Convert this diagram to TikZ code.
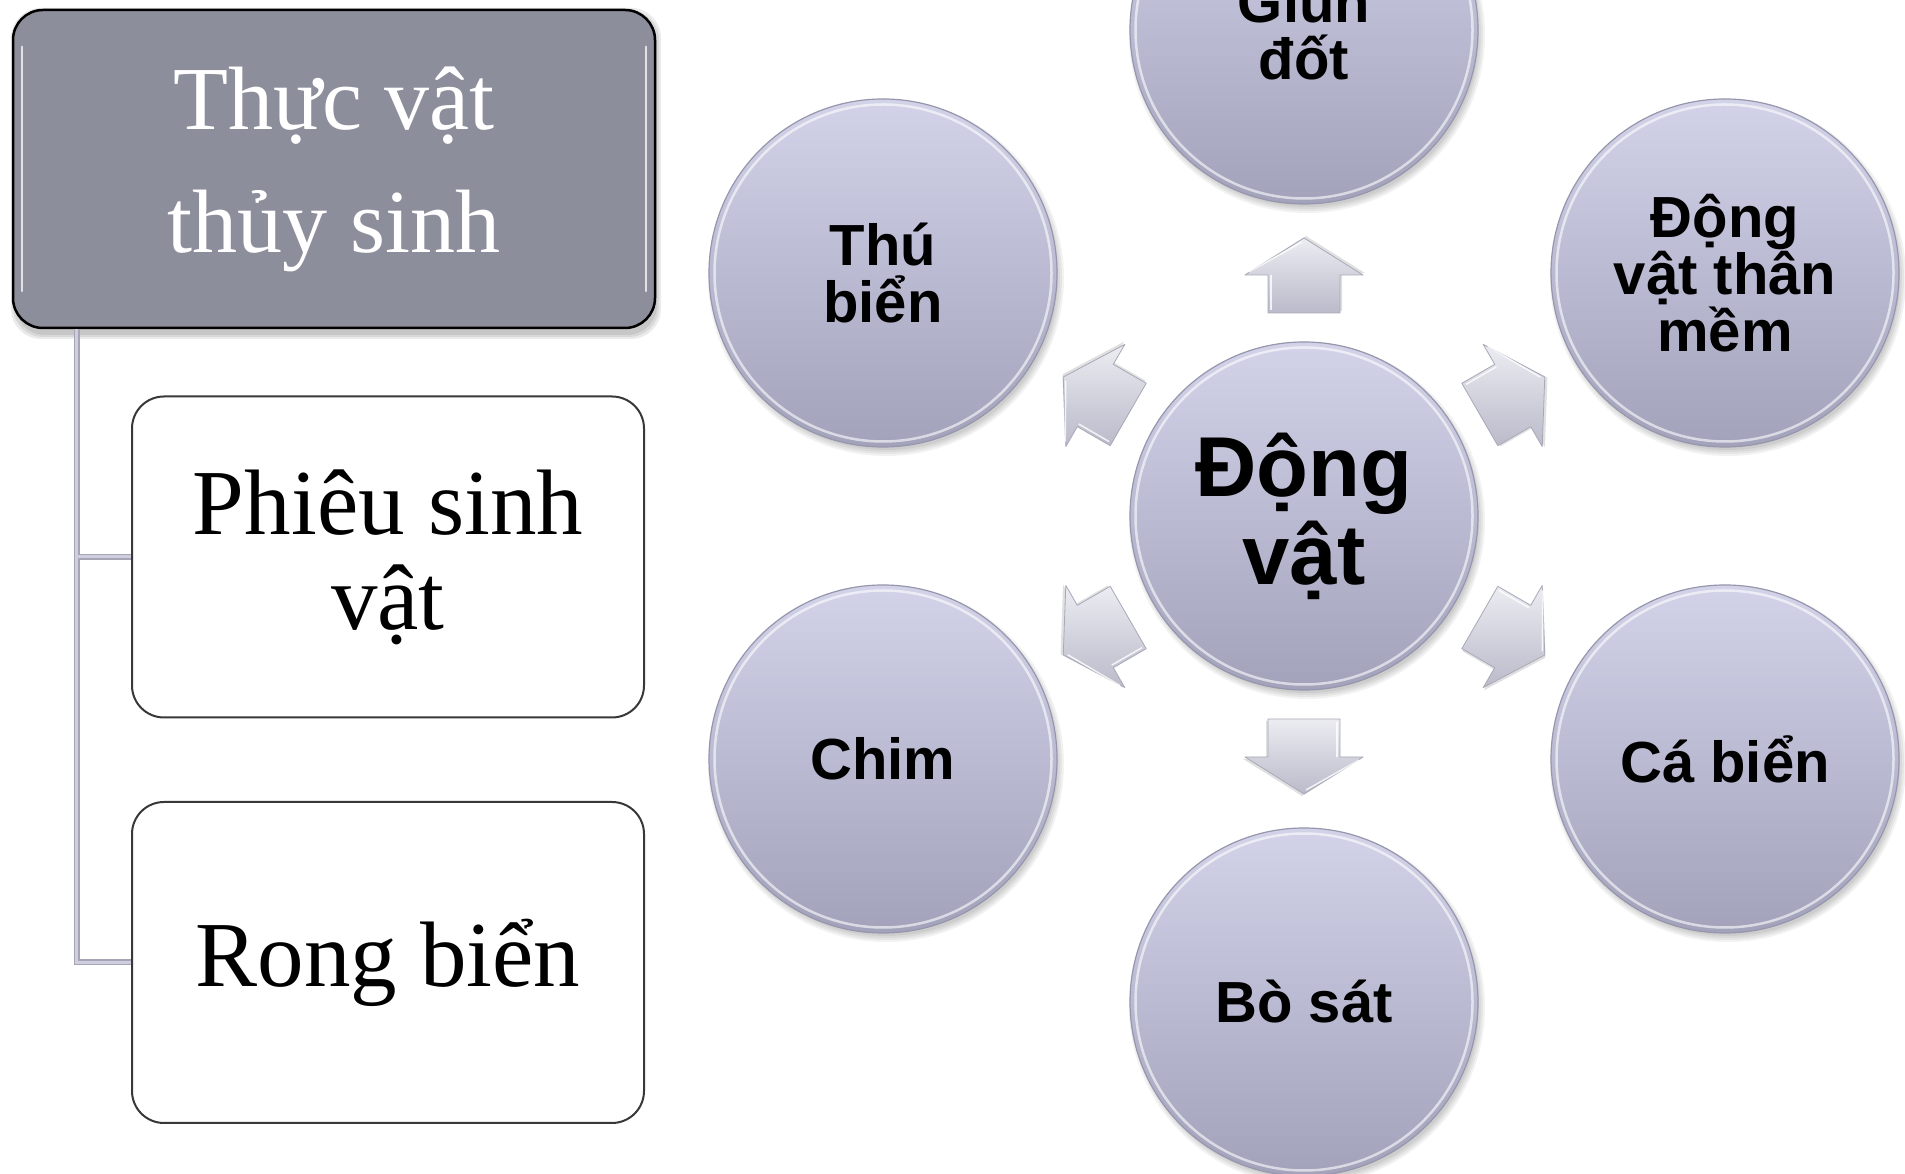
\documentclass[tikz,border=0pt]{standalone}
\usepackage{fontspec}
\setmainfont{Liberation Serif}
\newfontfamily\arialfont{Liberation Sans}
\usetikzlibrary{calc}

\definecolor{boxgray}{RGB}{141,142,155}
\definecolor{discTop}{RGB}{210,210,233}
\definecolor{discBot}{RGB}{162,162,187}
\definecolor{discEdge}{RGB}{150,150,172}
\definecolor{arrTop}{RGB}{236,236,242}
\definecolor{arrBot}{RGB}{186,186,202}
\definecolor{arrEdge}{RGB}{168,168,184}
\definecolor{linkLine}{RGB}{206,206,222}
\definecolor{linkEdge}{RGB}{165,165,182}

\tikzset{
  headbox/.style={draw=black, line width=2.5pt, rounded corners=30pt, fill=boxgray,
    text=white, minimum width=642pt, minimum height=318pt, inner sep=0pt,
    align=center, font=\fontsize{90}{123}\selectfont},
  leafbox/.style={draw=black!78, line width=2pt, rounded corners=32pt, fill=white,
    minimum width=512pt, minimum height=321pt, inner sep=0pt,
    align=center, font=\fontsize{93}{95}\selectfont},
  disc/.style={circle, minimum size=348pt, inner sep=0pt, top color=discTop,
    bottom color=discBot, draw=discEdge, line width=1.2pt, align=center,
    font=\arialfont\bfseries\fontsize{58}{57}\selectfont},
  hubfont/.style={font=\arialfont\bfseries\fontsize{85}{88}\selectfont},
  link/.style={line width=6pt, draw=linkEdge},
  linkcore/.style={line width=3pt, draw=linkLine},
  blockarrow/.style={top color=arrTop, bottom color=arrBot, draw=arrEdge, line width=0.8pt, line join=round},
}

\begin{document}
\begin{tikzpicture}[x=1pt,y=1pt]
  \clip (0,0) rectangle (1905,1174);
  \fill[white] (0,0) rectangle (1905,1174);

  % soft shadows under the discs
  \foreach \px/\py in {1304/658,1304/1144,883/901,1725/901,883/415,1725/415,1304/172}{
    \foreach \k in {0,2,4,6}{
      \fill[black, opacity=0.05] (\px+3,\py-5) circle (172+\k);
    }
  }

  % shadow under the heading box
  \foreach \k in {0,2,4}{
    \fill[black, opacity=0.08, rounded corners=30pt] (15-\k,839-\k) rectangle (657+\k,1162+\k);
  }

  % left: hierarchy of aquatic plants
  \node[headbox] (head) at (334,1005) {Thực vật\\thủy sinh};
  \node[leafbox] (leafA) at (388,617) {Phiêu sinh\\vật};
  \node[leafbox] (leafB) at (388,211.5) {Rong biển};

  % bevel highlights on the heading box
  \draw[white, opacity=.75, line width=2pt, line cap=round]
    ($(head.north west)+(10,-38)$) -- ($(head.south west)+(10,38)$);
  \draw[white, opacity=.75, line width=2pt, line cap=round]
    ($(head.north east)+(-10,-38)$) -- ($(head.south east)+(-10,38)$);

  \coordinate (trunk) at ($(head.south west)+(65,0)$);
  \draw[link] (trunk) |- (leafA.west);
  \draw[link] (trunk) |- (leafB.west);
  \draw[linkcore] (trunk) |- (leafA.west);
  \draw[linkcore] (trunk) |- (leafB.west);

  % right: animals around the hub
  \node[disc, hubfont] (hub) at (1304,658) {Động\\vật};
  \node[disc] (worm)  at (1304,1144) {Giun\\đốt};
  \node[disc] (mamm)  at (883,901)   {Thú\\biển};
  \node[disc] (moll)  at (1725,901)  {Động\\vật thân\\mềm};
  \node[disc] (bird)  at (883,415)   {Chim};
  \node[disc] (fish)  at (1725,415)  {Cá biển};
  \node[disc] (rept)  at (1304,172)  {Bò sát};

  % glossy rim on every disc
  \foreach \n in {hub,worm,mamm,moll,bird,fish,rept}{
    \draw[white, opacity=.6, line width=2.5pt] (\n.center) circle (168.5);
  }

  % block arrows pointing outward from the hub
  \foreach \ang in {90,150,30,210,330,270}{
    \begin{scope}[shift={(hub.center)}, rotate=\ang]
      \fill[black, opacity=.12] (205,-38) -- (243,-38) -- (243,-61) -- (280,-2) -- (243,57) -- (243,34) -- (205,34) -- cycle;
      \path[blockarrow] (203,-36) -- (241,-36) -- (241,-59) -- (278,0) -- (241,59) -- (241,36) -- (203,36) -- cycle;
      \draw[white, opacity=.8, line width=1.5pt] (206,33) -- (241,33);
      \draw[white, opacity=.8, line width=1.5pt] (244,55) -- (274,2);
    \end{scope}
  }
\end{tikzpicture}
\end{document}
